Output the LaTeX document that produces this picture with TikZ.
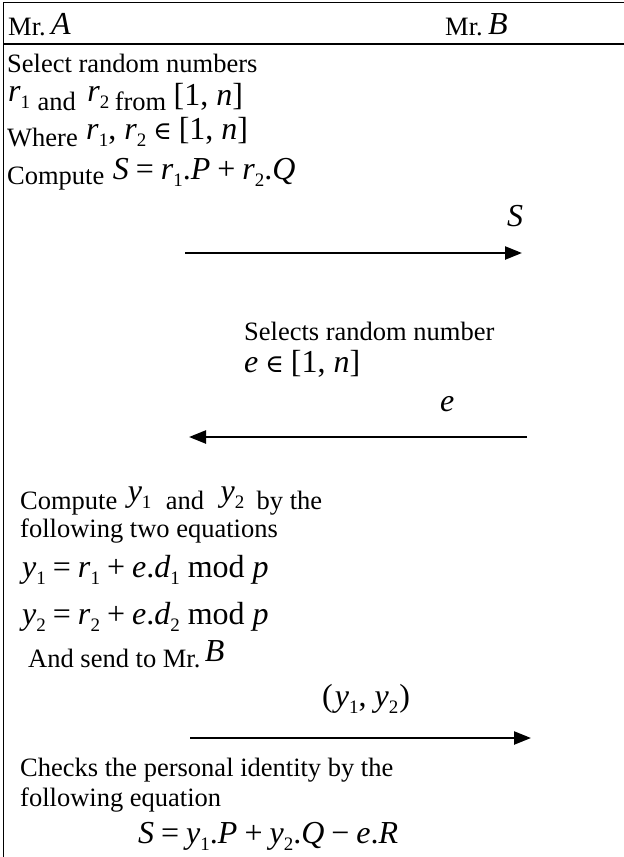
\documentclass[tikz,border=0pt]{standalone}
\usepackage{fontspec}
\setmainfont{Liberation Serif}
\newfontfamily\symf{DejaVu Serif}
\usetikzlibrary{arrows.meta,calc}
\newcommand{\Tx}{\fontsize{26.5}{30}\selectfont}
\newcommand{\Mx}{\fontsize{32}{36}\selectfont}
\newcommand{\vi}[1]{\textit{#1}}
\newcommand{\sbx}[1]{\raisebox{-7pt}{\fontsize{19}{19}\selectfont #1}}
\newcommand{\bop}[1]{\hspace{7pt}#1\hspace{7pt}}
\newcommand{\elem}{{\symf\fontsize{25}{25}\selectfont ∈}}
\begin{document}
\begin{tikzpicture}[x=1pt,y=-1pt,
  txt/.style={anchor=base west,inner sep=0pt,font=\Tx},
  mth/.style={anchor=base west,inner sep=0pt,font=\Mx},
  frame/.style={line width=1.6pt},
  msg/.style={line width=2.4pt,-{Triangle[length=17pt,width=13pt]}}]
\useasboundingbox (0,0) rectangle (624,857);
\draw[frame] (3.5,857) -- (3.5,2.5) -- (624,2.5);
\draw[frame] (3.5,44) -- (624,44);
% header
\node[txt] (mra) at (8,35) {Mr.};
\node[mth] (ma) at ($(mra.base east)+(5,-1)$) {\vi{A}};
\node[txt] (mrb) at (445,35) {Mr.};
\node[mth] (mb) at ($(mrb.base east)+(5,-1)$) {\vi{B}};
% A: select
\node[txt] (sel) at (7,72) {Select random numbers};
\node[mth] (r1) at (8,101) {\vi{r}\sbx{1}};
\node[txt] (and1) at ($(r1.base east)+(7,9)$) {and};
\node[mth] (r2) at ($(and1.base east)+(11,-9)$) {\vi{r}\sbx{2}};
\node[txt] (from) at ($(r2.base east)+(5,9)$) {from};
\node[mth] (int1) at ($(from.base east)+(7,-5)$) {[1, \vi{n}]};
\node[txt] (where) at (7,146) {Where};
\node[mth] (rin) at ($(where.base east)+(8,-7)$) {\vi{r}\sbx{1}, \vi{r}\sbx{2}\bop{\elem}[1, \vi{n}]};
\node[txt] (comp1) at (7,184) {Compute};
\node[mth] (seq) at ($(comp1.base east)+(8,-5)$) {\vi{S}\bop{=}\vi{r}\sbx{1}.\vi{P}\bop{+}\vi{r}\sbx{2}.\vi{Q}};
% message S
\node[mth] (lS) at (507,226) {\vi{S}};
\coordinate (a1s) at (185,253);
\coordinate (a1e) at (522,253);
\draw[msg] (a1s) -- (a1e);
% B: select e
\node[txt] (sele) at (244,340) {Selects random number};
\node[mth] (ein) at (244,372) {\vi{e}\bop{\elem}[1, \vi{n}]};
\node[mth] (le) at (440,411) {\vi{e}};
\coordinate (a2s) at (527,437);
\coordinate (a2e) at (189,437);
\draw[msg] (a2s) -- (a2e);
% A: compute y
\node[txt] (comp2) at (20,509) {Compute};
\node[mth] (y1a) at ($(comp2.base east)+(10,-8)$) {\vi{y}\sbx{1}};
\node[txt] (and2) at ($(y1a.base east)+(14,8)$) {and};
\node[mth] (y2a) at ($(and2.base east)+(16,-8)$) {\vi{y}\sbx{2}};
\node[txt] (bythe) at ($(y2a.base east)+(12,8)$) {by the};
\node[txt] (ftwo) at (20,537) {following two equations};
\node[mth] (y1eq) at (22,577) {\vi{y}\sbx{1}\bop{=}\vi{r}\sbx{1}\bop{+}\vi{e}.\vi{d}\sbx{1} mod\hspace{8pt}\vi{p}};
\node[mth] (y2eq) at (22,624) {\vi{y}\sbx{2}\bop{=}\vi{r}\sbx{2}\bop{+}\vi{e}.\vi{d}\sbx{2} mod\hspace{8pt}\vi{p}};
\node[txt] (send) at (28,667) {And send to Mr.};
\node[mth] (sendb) at ($(send.base east)+(4,-6)$) {\vi{B}};
\node[mth] (ly) at (322,706) {(\hspace{2pt}\vi{y}\sbx{1}, \vi{y}\sbx{2}\hspace{1pt})};
\coordinate (a3s) at (190,738);
\coordinate (a3e) at (531,738);
\draw[msg] (a3s) -- (a3e);
% B: verify
\node[txt] (chk) at (20,776) {Checks the personal identity by the};
\node[txt] (fone) at (20,806) {following equation};
\node[mth] (ver) at (138,843) {\vi{S}\bop{=}\vi{y}\sbx{1}.\vi{P}\bop{+}\vi{y}\sbx{2}.\vi{Q}\bop{−}\vi{e}.\vi{R}};
\end{tikzpicture}
\end{document}
